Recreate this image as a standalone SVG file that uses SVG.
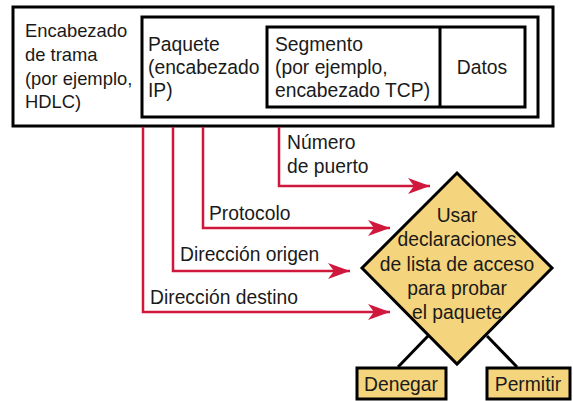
<svg xmlns="http://www.w3.org/2000/svg" width="573" height="401" viewBox="0 0 573 401">
<style>
text{font-family:"Liberation Sans",Arial,sans-serif;font-size:19.3px;fill:#1a1a1a}
.f{font-size:18.4px}
.box{fill:#fff;stroke:#000;stroke-width:3}
.red{fill:none;stroke:#d0173c;stroke-width:2.5}
.dec{fill:#f4d47c;stroke:#000;stroke-width:3}
.blk{stroke:#000;stroke-width:3}
.c{text-anchor:middle}
</style>
<defs>
<marker id="ah" markerUnits="userSpaceOnUse" markerWidth="24" markerHeight="18" refX="22" refY="9" orient="auto">
<path d="M0,1 L22,9 L0,17 L6,9 Z" fill="#d0173c"/>
</marker>
</defs>
<rect width="573" height="401" fill="#fff"/>
<g id="frame">
<rect class="box" x="13" y="7" width="540" height="119"/>
<text class="f" x="25" y="37">Encabezado</text>
<text class="f" x="25" y="61">de trama</text>
<text class="f" x="25" y="85">(por ejemplo,</text>
<text class="f" x="25" y="108">HDLC)</text>
</g>
<g id="packet">
<rect class="box" x="142" y="17" width="396" height="100"/>
<text x="148" y="51">Paquete</text>
<text x="148" y="74">(encabezado</text>
<text x="148" y="97">IP)</text>
</g>
<g id="segment">
<rect class="box" x="267" y="27" width="258" height="80"/>
<text x="275" y="51">Segmento</text>
<text x="275" y="74">(por ejemplo,</text>
<text x="275" y="97">encabezado TCP)</text>
</g>
<g id="data">
<line class="blk" x1="440" y1="27" x2="440" y2="107"/>
<text class="c" x="482" y="74">Datos</text>
</g>
<g id="connectors">
<path class="red" d="M279,127 V186 H430" marker-end="url(#ah)"/>
<path class="red" d="M203,127 V228 H390" marker-end="url(#ah)"/>
<path class="red" d="M173,127 V271 H350" marker-end="url(#ah)"/>
<path class="red" d="M143,127 V312 H390" marker-end="url(#ah)"/>
<text x="287" y="149">Número</text>
<text x="287" y="173">de puerto</text>
<text x="209" y="220">Protocolo</text>
<text x="180" y="261">Dirección origen</text>
<text x="150" y="304">Dirección destino</text>
<line class="blk" x1="428" y1="336" x2="398" y2="367"/>
<line class="blk" x1="487" y1="336" x2="517" y2="367"/>
</g>
<g id="decision">
<polygon class="dec" points="457,173 552,268 457,364 362,268"/>
<text class="c" x="457" y="222">Usar</text>
<text class="c" x="457" y="246">declaraciones</text>
<text class="c" x="457" y="271">de lista de acceso</text>
<text class="c" x="457" y="295">para probar</text>
<text class="c" x="457" y="319">el paquete</text>
</g>
<g id="deny">
<rect class="dec" x="357" y="368" width="89" height="31"/>
<text class="c" x="401" y="391">Denegar</text>
</g>
<g id="permit">
<rect class="dec" x="487" y="368" width="83" height="31"/>
<text class="c" x="528" y="391">Permitir</text>
</g>
</svg>
